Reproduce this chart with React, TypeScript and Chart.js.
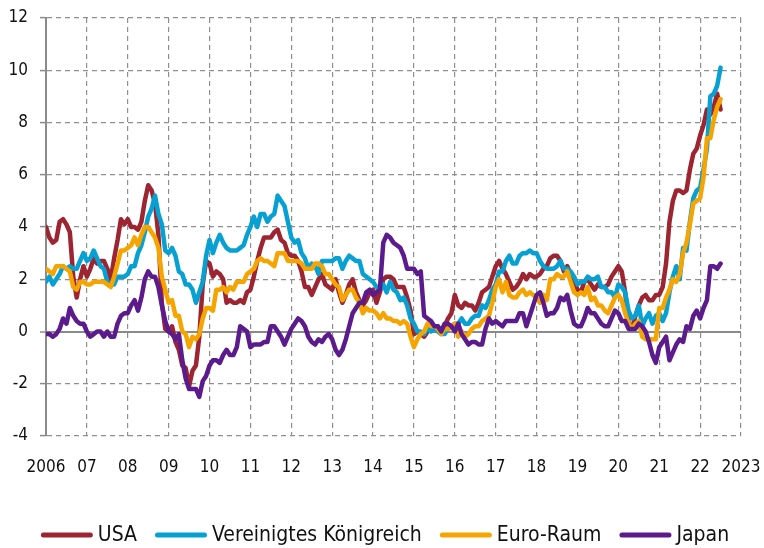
import React, { useEffect, useRef } from "react";
import { Chart, registerables } from "chart.js";

Chart.register(...registerables);

const startYear = 2006;
const endYear = 2023;
const tickLabels = ["2006", "07", "08", "09", "10", "11", "12", "13", "14", "15", "16", "17", "18", "19", "20", "21", "22", "2023"];
const yTicks = [-4, -2, 0, 2, 4, 6, 8, 10, 12];
const seriesNames = ["USA", "Vereinigtes Königreich", "Euro-Raum", "Japan"];

// Monthly values, Jan 2006 – Jul 2022
const usa = [
  4.0, 3.6, 3.4, 3.5, 4.2, 4.3, 4.1, 3.8, 2.1, 1.3, 2.0, 2.5,
  2.1, 2.4, 2.8, 2.6, 2.7, 2.7, 2.4, 2.0, 2.8, 3.5, 4.3, 4.1,
  4.3, 4.0, 4.0, 3.9, 4.2, 5.0, 5.6, 5.4, 4.9, 3.7, 1.1, 0.1,
  0.0, 0.2, -0.4, -0.7, -1.3, -1.4, -2.1, -1.5, -1.3, -0.2, 1.8, 2.7,
  2.6, 2.1, 2.3, 2.2, 2.0, 1.1, 1.2, 1.1, 1.1, 1.2, 1.1, 1.5,
  1.6, 2.1, 2.7, 3.2, 3.6, 3.6, 3.6, 3.8, 3.9, 3.5, 3.4, 3.0,
  2.9, 2.9, 2.7, 2.3, 1.7, 1.7, 1.4, 1.7, 2.0, 2.2, 1.8, 1.7,
  1.6, 2.0, 1.5, 1.1, 1.4, 1.8, 2.0, 1.5, 1.2, 1.0, 1.2, 1.5,
  1.6, 1.1, 1.5, 2.0, 2.1, 2.1, 2.0, 1.7, 1.7, 1.7, 1.3, 0.8,
  -0.1, 0.0, -0.1, -0.2, 0.0, 0.1, 0.2, 0.2, 0.0, 0.2, 0.5, 0.7,
  1.4, 1.0, 0.9, 1.1, 1.0, 1.0, 0.8, 1.1, 1.5, 1.6, 1.7, 2.1,
  2.5, 2.7, 2.4, 2.2, 1.9, 1.6, 1.7, 1.9, 2.2, 2.0, 2.2, 2.1,
  2.1, 2.2, 2.4, 2.5, 2.8, 2.9, 2.9, 2.7, 2.3, 2.5, 2.2, 1.9,
  1.6, 1.5, 1.9, 2.0, 1.8, 1.6, 1.8, 1.7, 1.7, 1.8, 2.1, 2.3,
  2.5, 2.3, 1.5, 0.3, 0.1, 0.6, 1.0, 1.3, 1.4, 1.2, 1.2, 1.4,
  1.4, 1.7, 2.6, 4.2, 5.0, 5.4, 5.4, 5.3, 5.4, 6.2, 6.8, 7.0,
  7.5, 7.9, 8.5, 8.3, 8.6, 9.1, 8.5,
];

const uk = [
  1.9, 2.1, 1.8, 2.0, 2.2, 2.5, 2.4, 2.5, 2.4, 2.4, 2.7, 3.0,
  2.7, 2.8, 3.1, 2.8, 2.5, 2.4, 1.9, 1.8, 1.8, 2.1, 2.1, 2.1,
  2.2, 2.5, 2.5, 3.0, 3.3, 3.8, 4.4, 4.7, 5.2, 4.5, 4.1, 3.1,
  3.0, 3.2, 2.9, 2.3, 2.2, 1.8, 1.8, 1.6, 1.1, 1.5, 1.9, 2.9,
  3.5, 3.0, 3.4, 3.7, 3.4, 3.2, 3.1, 3.1, 3.1, 3.2, 3.3, 3.7,
  4.0, 4.4, 4.0, 4.5, 4.5, 4.2, 4.4, 4.5, 5.2, 5.0, 4.8, 4.2,
  3.6, 3.4, 3.5, 3.0, 2.8, 2.4, 2.6, 2.5, 2.2, 2.7, 2.7, 2.7,
  2.7, 2.8, 2.8, 2.4, 2.7, 2.9, 2.8, 2.7, 2.7, 2.2, 2.1, 2.0,
  1.9, 1.7, 1.6, 1.8, 1.5, 1.9, 1.6, 1.5, 1.2, 1.3, 1.0, 0.5,
  0.3, 0.0, 0.0, -0.1, 0.1, 0.0, 0.1, 0.0, -0.1, -0.1, 0.1, 0.2,
  0.3, 0.3, 0.5, 0.3, 0.3, 0.5, 0.6, 0.6, 1.0, 0.9, 1.2, 1.6,
  1.8, 2.3, 2.3, 2.7, 2.9, 2.6, 2.6, 2.9, 3.0, 3.0, 3.1, 3.0,
  3.0, 2.7, 2.5, 2.4, 2.4, 2.4, 2.5, 2.7, 2.4, 2.4, 2.3, 2.1,
  1.8, 1.9, 1.9, 2.1, 2.0, 2.0, 2.1, 1.7, 1.7, 1.5, 1.5, 1.3,
  1.8, 1.7, 1.5, 0.8, 0.5, 0.6, 1.0, 0.2, 0.5, 0.7, 0.3, 0.6,
  0.7, 0.4, 0.7, 1.5, 2.1, 2.5, 2.0, 3.2, 3.1, 4.2, 5.1, 5.4,
  5.5, 6.2, 7.0, 9.0, 9.1, 9.4, 10.1,
];

const euro = [
  2.4, 2.3, 2.2, 2.5, 2.5, 2.5, 2.4, 2.3, 1.7, 1.6, 1.9, 1.9,
  1.8, 1.8, 1.9, 1.9, 1.9, 1.9, 1.8, 1.7, 2.1, 2.6, 3.1, 3.1,
  3.2, 3.3, 3.6, 3.3, 3.7, 4.0, 4.0, 3.8, 3.6, 3.2, 2.1, 1.6,
  1.1, 1.2, 0.6, 0.6, 0.0, -0.1, -0.6, -0.2, -0.3, -0.1, 0.5, 0.9,
  0.9, 0.8, 1.6, 1.6, 1.7, 1.5, 1.7, 1.6, 1.9, 1.9, 1.9, 2.2,
  2.3, 2.4, 2.7, 2.8, 2.7, 2.7, 2.6, 2.5, 3.0, 3.0, 3.0, 2.7,
  2.7, 2.7, 2.7, 2.6, 2.4, 2.4, 2.4, 2.6, 2.6, 2.5, 2.2, 2.2,
  2.0, 1.8, 1.7, 1.2, 1.4, 1.6, 1.6, 1.3, 1.1, 0.7, 0.9, 0.8,
  0.8, 0.7, 0.5, 0.7, 0.5, 0.5, 0.4, 0.4, 0.3, 0.4, 0.3, -0.2,
  -0.6, -0.3, -0.1, 0.0, 0.3, 0.2, 0.2, 0.1, -0.1, 0.1, 0.1, 0.2,
  0.3, -0.2, 0.0, -0.2, -0.1, 0.1, 0.2, 0.2, 0.4, 0.5, 0.6, 1.1,
  1.7, 2.0, 1.5, 1.9, 1.4, 1.3, 1.3, 1.5, 1.6, 1.4, 1.5, 1.4,
  1.3, 1.1, 1.4, 1.2, 2.0, 2.0, 2.2, 2.1, 2.1, 2.3, 1.9, 1.5,
  1.4, 1.5, 1.4, 1.7, 1.2, 1.3, 1.0, 1.0, 0.8, 0.7, 1.0, 1.3,
  1.4, 1.2, 0.7, 0.3, 0.1, 0.3, 0.4, -0.2, -0.3, -0.3, -0.3, -0.3,
  0.9, 0.9, 1.3, 1.6, 2.0, 1.9, 2.2, 3.0, 3.4, 4.1, 4.9, 5.0,
  5.1, 5.9, 7.4, 7.4, 8.1, 8.6, 8.9,
];

const japan = [
  -0.1, -0.1, -0.2, -0.1, 0.1, 0.5, 0.3, 0.9, 0.6, 0.4, 0.3, 0.3,
  0.0, -0.2, -0.1, 0.0, 0.0, -0.2, 0.0, -0.2, -0.2, 0.3, 0.6, 0.7,
  0.7, 1.0, 1.2, 0.8, 1.3, 2.0, 2.3, 2.1, 2.1, 1.7, 1.0, 0.4,
  0.0, -0.1, -0.3, -0.1, -1.1, -1.8, -2.2, -2.2, -2.2, -2.5, -1.9, -1.7,
  -1.3, -1.1, -1.1, -1.2, -0.9, -0.7, -0.9, -0.9, -0.6, 0.2, 0.1, 0.0,
  -0.6, -0.5, -0.5, -0.5, -0.4, -0.4, 0.2, 0.2, 0.0, -0.2, -0.5, -0.2,
  0.1, 0.3, 0.5, 0.4, 0.2, -0.2, -0.4, -0.5, -0.3, -0.4, -0.2, -0.1,
  -0.3, -0.7, -0.9, -0.7, -0.3, 0.2, 0.7, 0.9, 1.1, 1.1, 1.5, 1.6,
  1.4, 1.5, 1.6, 3.4, 3.7, 3.6, 3.4, 3.3, 3.2, 2.9, 2.4, 2.4,
  2.4, 2.2, 2.3, 0.6, 0.5, 0.4, 0.2, 0.2, 0.0, 0.3, 0.3, 0.2,
  0.0, 0.3, -0.1, -0.3, -0.5, -0.4, -0.4, -0.5, -0.5, 0.1, 0.5, 0.3,
  0.4, 0.3, 0.2, 0.4, 0.4, 0.4, 0.4, 0.7, 0.7, 0.2, 0.6, 1.0,
  1.4, 1.5, 1.1, 0.6, 0.7, 0.7, 0.9, 1.3, 1.2, 1.4, 0.8, 0.3,
  0.2, 0.2, 0.5, 0.9, 0.7, 0.7, 0.5, 0.3, 0.2, 0.2, 0.5, 0.8,
  0.7, 0.4, 0.4, 0.1, 0.1, 0.1, 0.3, 0.2, 0.0, -0.4, -0.9, -1.2,
  -0.6, -0.4, -0.2, -1.1, -0.8, -0.5, -0.3, -0.4, 0.2, 0.1, 0.6, 0.8,
  0.5, 0.9, 1.2, 2.5, 2.5, 2.4, 2.6,
];

const seriesValues = [usa, uk, euro, japan];
const seriesColors = ["#9d2431", "#06a1d2", "#f6a400", "#5c1b8c"];

const FONT = "'Liberation Sans Narrow', 'DejaVu Sans Condensed', 'Roboto', sans-serif";
const GRID = "#8f8f8f";

const toPoints = (vals: number[]) =>
  vals.map((v, i) => ({ x: startYear + i / 12, y: v }));

const legendPlugin = {
  id: "bottomLegend",
  afterDraw(chart: any) {
    const ctx = chart.ctx as CanvasRenderingContext2D;
    ctx.save();
    ctx.font = `21px ${FONT}`;
    const lineLen = 47;
    const cap = 2.5;
    const gapText = 5;
    const gapItem = 18;
    const items = chart.data.datasets.map((ds: any) => ({
      label: ds.label,
      color: ds.borderColor,
      w: ctx.measureText(ds.label).width,
    }));
    const total =
      items.reduce((s: number, it: any) => s + cap * 2 + lineLen + gapText + it.w, 0) +
      gapItem * (items.length - 1);
    let x = chart.width / 2 - total / 2 + 3;
    const y = chart.chartArea.bottom + 99;
    ctx.textBaseline = "middle";
    ctx.textAlign = "left";
    for (const it of items) {
      ctx.beginPath();
      ctx.strokeStyle = it.color;
      ctx.lineWidth = 5;
      ctx.lineCap = "round";
      ctx.moveTo(x + cap, y);
      ctx.lineTo(x + cap + lineLen, y);
      ctx.stroke();
      x += cap * 2 + lineLen + gapText;
      ctx.fillStyle = "#111";
      ctx.fillText(it.label, x, y + 1);
      x += it.w + gapItem;
    }
    ctx.restore();
  },
};

export default function App() {
  const ref = useRef<HTMLCanvasElement | null>(null);

  useEffect(() => {
    if (!ref.current) return;
    const datasets = seriesNames.map((name, i) => ({
      label: name,
      data: toPoints(seriesValues[i]),
      borderColor: seriesColors[i],
      backgroundColor: seriesColors[i],
      borderWidth: 4.5,
      borderJoinStyle: "round" as const,
      borderCapStyle: "round" as const,
      pointRadius: 0,
      tension: 0,
      order: seriesNames.length - i,
    }));

    const chart = new Chart(ref.current, {
      type: "line",
      data: { datasets },
      plugins: [legendPlugin],
      options: {
        animation: false,
        responsive: false,
        maintainAspectRatio: false,
        layout: { padding: { left: 0, right: 23, top: 18, bottom: 62 } },
        plugins: {
          legend: { display: false },
          tooltip: { enabled: false },
        },
        scales: {
          x: {
            type: "linear",
            min: startYear,
            max: endYear,
            afterFit: (s: any) => {
              s.height = 50;
              s.paddingLeft = 0;
              s.paddingRight = 0;
            },
            afterBuildTicks: (s: any) => {
              s.ticks = tickLabels.map((_, i) => ({ value: startYear + i }));
            },
            ticks: {
              autoSkip: false,
              maxRotation: 0,
              padding: 21,
              color: "#111",
              font: { family: FONT, size: 17 },
              callback: (_v: any, i: number) => tickLabels[i],
            },
            grid: {
              color: GRID,
              lineWidth: 1.2,
              drawTicks: false,
            },
            border: { display: false, dash: [5, 4] },
          },
          y: {
            min: -4,
            max: 12,
            afterFit: (s: any) => {
              s.width = 46;
              s.paddingTop = 0;
              s.paddingBottom = 0;
            },
            afterBuildTicks: (s: any) => {
              s.ticks = yTicks.map((v) => ({ value: v }));
            },
            ticks: {
              padding: 12,
              color: "#111",
              font: { family: FONT, size: 17 },
              callback: (v: any) => String(v),
            },
            grid: {
              color: (c: any) => (c.tick && c.tick.value === 0 ? "#8a8a8a" : GRID),
              lineWidth: (c: any) => (c.tick && c.tick.value === 0 ? 2 : 1.2),
              drawTicks: true,
              tickLength: 6,
              tickColor: "#8a8a8a",
              tickWidth: 1.5,
            },
            border: {
              display: true,
              color: "#8a8a8a",
              width: 2,
              dash: (c: any) => (c.tick && c.tick.value === 0 ? [] : [5, 4]),
            },
          },
        },
      },
    } as any);
    return () => chart.destroy();
  }, []);

  return (
    <div style={{ position: "fixed", left: 0, top: 0, width: 764, height: 548, background: "#fff" }}>
      <canvas ref={ref} width={764} height={548} style={{ width: 764, height: 548 }} />
    </div>
  );
}
